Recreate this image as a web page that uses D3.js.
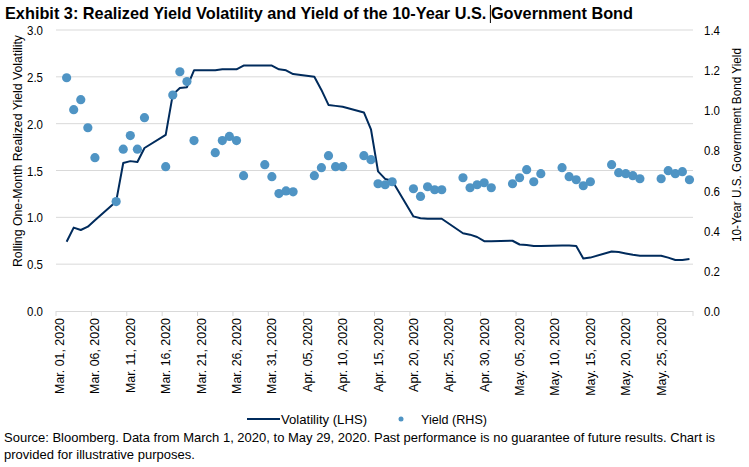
<!DOCTYPE html>
<html>
<head>
<meta charset="utf-8">
<script src="https://cdn.jsdelivr.net/npm/d3@7"></script>
<style>
  body { margin: 0; background: #fff; }
  svg text { font-family: "Liberation Sans", Arial, sans-serif; fill: #000; }
  .title { font-weight: bold; font-size: 17px; }
  .tick-lbl { font-size: 13.5px; }
  .foot { font-size: 13px; }
  .grid line { stroke: #d9d9d9; stroke-width: 1; }
</style>
</head>
<body>
<svg id="chart" width="749" height="467"></svg>
<script>
// trading days shown (Mar 1 - May 29, 2020 axis)
var tradeDays = [
  "2020-03-02","2020-03-03","2020-03-04","2020-03-05","2020-03-06",
  "2020-03-09","2020-03-10","2020-03-11","2020-03-12","2020-03-13",
  "2020-03-16","2020-03-17","2020-03-18","2020-03-19","2020-03-20",
  "2020-03-23","2020-03-24","2020-03-25","2020-03-26","2020-03-27",
  "2020-03-30","2020-03-31","2020-04-01","2020-04-02","2020-04-03",
  "2020-04-06","2020-04-07","2020-04-08","2020-04-09","2020-04-10",
  "2020-04-13","2020-04-14","2020-04-15","2020-04-16","2020-04-17",
  "2020-04-20","2020-04-21","2020-04-22","2020-04-23","2020-04-24",
  "2020-04-27","2020-04-28","2020-04-29","2020-04-30","2020-05-01",
  "2020-05-04","2020-05-05","2020-05-06","2020-05-07","2020-05-08",
  "2020-05-11","2020-05-12","2020-05-13","2020-05-14","2020-05-15",
  "2020-05-18","2020-05-19","2020-05-20","2020-05-21","2020-05-22",
  "2020-05-25","2020-05-26","2020-05-27","2020-05-28","2020-05-29"
];

// rolling one-month realized yield volatility (LHS)
var volatility = [
  0.74, 0.89, 0.865, 0.90, 0.97,
  1.17, 1.58, 1.60, 1.59, 1.74,
  1.88, 2.31, 2.38, 2.39, 2.57,
  2.57, 2.58, 2.58, 2.58, 2.62,
  2.62, 2.62, 2.58, 2.57, 2.53,
  2.50, 2.36, 2.20, 2.19, 2.18,
  2.12, 1.94, 1.49, 1.41, 1.39,
  1.01, 0.99, 0.985, 0.985, 0.985,
  0.83, 0.815, 0.79, 0.745, 0.745,
  0.75, 0.71, 0.705, 0.695, 0.695,
  0.70, 0.70, 0.695, 0.56, 0.57,
  0.635, 0.63, 0.615, 0.60, 0.59,
  0.59, 0.57, 0.545, 0.545, 0.555
];

// 10-year yield (RHS)
var yields = [
  1.162, 1.003, 1.053, 0.913, 0.764,
  0.545, 0.806, 0.874, 0.806, 0.963,
  0.719, 1.076, 1.192, 1.143, 0.849,
  0.789, 0.849, 0.870, 0.849, 0.674,
  0.729, 0.669, 0.585, 0.598, 0.594,
  0.674, 0.714, 0.774, 0.719, 0.719,
  0.774, 0.754, 0.634, 0.629, 0.644,
  0.609, 0.571, 0.619, 0.604, 0.604,
  0.664, 0.614, 0.629, 0.639, 0.614,
  0.634, 0.664, 0.704, 0.644, 0.684,
  0.714, 0.669, 0.654, 0.624, 0.644,
  0.729, 0.689, 0.684, 0.674, 0.659,
  0.659, 0.699, 0.684, 0.694, 0.654
];

var leftTicks = [0, 0.5, 1.0, 1.5, 2.0, 2.5, 3.0];
var rightTicks = [0, 0.2, 0.4, 0.6, 0.8, 1.0, 1.2, 1.4];

var svg = d3.select("#chart");
var m = { left: 56, right: 693, top: 30, bottom: 311 };
var parse = d3.timeParse("%Y-%m-%d");
var fmtKey = d3.timeFormat("%Y-%m-%d");
var fmtLbl = d3.timeFormat("%b. %d, %Y");

// squeeze text horizontally (original uses a narrow font)
function narrow(sel, f) {
  sel.each(function() {
    var w = this.getComputedTextLength();
    d3.select(this).attr("textLength", w * f).attr("lengthAdjust", "spacingAndGlyphs");
  });
}

// every calendar day on the axis
var allDays = d3.timeDay.range(new Date(2020, 2, 1), new Date(2020, 4, 30)).map(fmtKey);

var x = d3.scaleBand().domain(allDays).range([m.left, m.right]).padding(0);
var yL = d3.scaleLinear().domain([0, 3]).range([m.bottom, m.top]);
var yR = d3.scaleLinear().domain([0, 1.4]).range([m.bottom, m.top]);
var cx = function(d) { return x(d) + x.bandwidth() / 2; };

// gridlines
svg.append("g").attr("class", "grid")
  .selectAll("line").data(leftTicks.slice(1)).join("line")
  .attr("x1", m.left).attr("x2", m.right)
  .attr("y1", function(d) { return yL(d); }).attr("y2", function(d) { return yL(d); });

// left axis labels
svg.append("g").selectAll("text").data(leftTicks).join("text")
  .attr("class", "tick-lbl")
  .attr("x", 43).attr("y", function(d) { return yL(d) + 5; })
  .attr("text-anchor", "end")
  .text(d3.format(".1f"))
  .call(narrow, 0.85);

// right axis labels
svg.append("g").selectAll("text").data(rightTicks).join("text")
  .attr("class", "tick-lbl")
  .attr("x", 704).attr("y", function(d) { return yR(d) + 5; })
  .text(d3.format(".1f"))
  .call(narrow, 0.85);

// x axis
svg.append("line").attr("x1", m.left).attr("x2", m.right)
  .attr("y1", m.bottom + 0.5).attr("y2", m.bottom + 0.5)
  .attr("stroke", "#d9d9d9");
var tickDays = allDays.filter(function(d, i) { return i % 5 === 0; });
svg.append("g").selectAll("line").data(tickDays.concat(["end"])).join("line")
  .attr("x1", function(d) { return d === "end" ? m.right : x(d); })
  .attr("x2", function(d) { return d === "end" ? m.right : x(d); })
  .attr("y1", m.bottom).attr("y2", m.bottom + 5)
  .attr("stroke", "#d9d9d9");
svg.append("g").selectAll("text").data(tickDays).join("text")
  .attr("class", "tick-lbl")
  .attr("text-anchor", "end")
  .attr("transform", function(d) { return "translate(" + (cx(d) + 4.5) + ",318) rotate(-90)"; })
  .text(function(d) { return fmtLbl(parse(d)); })
  .call(narrow, 0.92);

// axis titles
svg.append("text").attr("class", "tick-lbl")
  .attr("text-anchor", "middle")
  .attr("transform", "translate(22,151) rotate(-90)")
  .attr("textLength", 232).attr("lengthAdjust", "spacingAndGlyphs")
  .text("Rolling One-Month Realized Yield Volatility");
svg.append("text").attr("class", "tick-lbl")
  .attr("text-anchor", "middle")
  .attr("transform", "translate(741,145) rotate(-90)")
  .attr("textLength", 194).attr("lengthAdjust", "spacingAndGlyphs")
  .text("10-Year U.S. Government Bond Yield");

// volatility line
var line = d3.line()
  .x(function(d, i) { return cx(tradeDays[i]); })
  .y(function(d) { return yL(d); });
svg.append("path").datum(volatility)
  .attr("fill", "none").attr("stroke", "#002b5c").attr("stroke-width", 2)
  .attr("stroke-linejoin", "round")
  .attr("d", line);

// yield dots
svg.append("g").selectAll("circle").data(yields).join("circle")
  .attr("cx", function(d, i) { return cx(tradeDays[i]); })
  .attr("cy", function(d) { return yR(d); })
  .attr("r", 4.6)
  .attr("fill", "#4f94c4");

// title, with the stray text cursor seen in the original
var titleText = "Exhibit 3: Realized Yield Volatility and Yield of the 10-Year U.S. Government Bond";
var title = svg.append("text").attr("class", "title").attr("x", 5).attr("y", 19).text(titleText);
var full = title.node().getComputedTextLength();
var part = title.node().getSubStringLength(0, titleText.indexOf("Government"));
var titleW = 628;
title.attr("textLength", titleW).attr("lengthAdjust", "spacingAndGlyphs");
var cursorX = 5 + part * titleW / full - 0.5;
svg.append("line").attr("x1", cursorX).attr("x2", cursorX)
  .attr("y1", 5).attr("y2", 23).attr("stroke", "#000").attr("stroke-width", 1);

// legend
svg.append("line").attr("x1", 247).attr("x2", 280).attr("y1", 419).attr("y2", 419)
  .attr("stroke", "#002b5c").attr("stroke-width", 2);
svg.append("text").attr("class", "tick-lbl").attr("x", 281).attr("y", 424)
  .attr("textLength", 86).attr("lengthAdjust", "spacingAndGlyphs").text("Volatility (LHS)");
svg.append("circle").attr("cx", 401).attr("cy", 419).attr("r", 2.5).attr("fill", "#4f94c4");
svg.append("text").attr("class", "tick-lbl").attr("x", 421).attr("y", 424)
  .attr("textLength", 66).attr("lengthAdjust", "spacingAndGlyphs").text("Yield (RHS)");

// footer
svg.append("text").attr("class", "foot").attr("x", 4).attr("y", 442)
  .text("Source: Bloomberg. Data from March 1, 2020, to May 29, 2020. Past performance is no guarantee of future results. Chart is");
svg.append("text").attr("class", "foot").attr("x", 4).attr("y", 459)
  .text("provided for illustrative purposes.");
</script>
</body>
</html>
